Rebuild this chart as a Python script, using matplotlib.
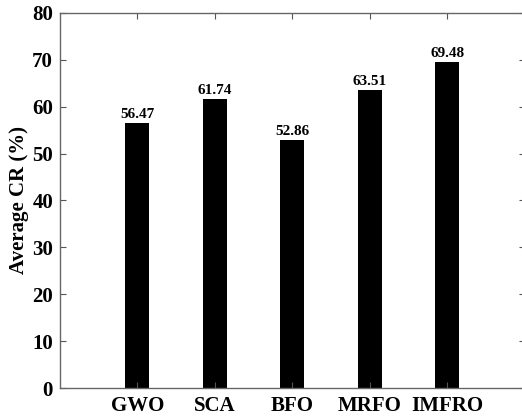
import matplotlib
matplotlib.use("Agg")
import matplotlib.pyplot as plt

categories = ["GWO", "SCA", "BFO", "MRFO", "IMFRO"]
values = [56.47, 61.74, 52.86, 63.51, 69.48]
yticks = [0, 10, 20, 30, 40, 50, 60, 70, 80]

plt.rcParams['font.family'] = ['Liberation Serif', 'DejaVu Serif']
plt.rcParams['font.weight'] = 'bold'

W, H = 522, 419
fig = plt.figure(figsize=(W/100, H/100), dpi=100)
left, right, top, bottom = 60, 524.5, 13, 388
ax = fig.add_axes([left/W, 1-bottom/H, (right-left)/W, (bottom-top)/H])

x = list(range(1, len(categories)+1))
ax.bar(x, values, width=0.31, color='black')
for xi, v in zip(x, values):
    ax.text(xi, v + 0.4, f"{v:.2f}", ha='center', va='bottom', fontsize=11, fontweight='bold')

ax.set_xlim(0, 6)
ax.set_ylim(0, 80)
ax.set_xticks(x)
ax.set_xticklabels(categories, fontsize=15, fontweight='bold')
ax.set_yticks(yticks)
ax.set_yticklabels([str(t) for t in yticks], fontsize=15, fontweight='bold')
ax.set_ylabel("Average CR (%)", fontsize=15, fontweight='bold', labelpad=2)
ax.tick_params(direction='in', top=True, right=True, length=4, width=0.8, color='#555555', pad=5)
ax.tick_params(axis='x', pad=6)
for s in ax.spines.values():
    s.set_color('#666666')
    s.set_linewidth(1.0)

fig.savefig("out.png", dpi=100)
